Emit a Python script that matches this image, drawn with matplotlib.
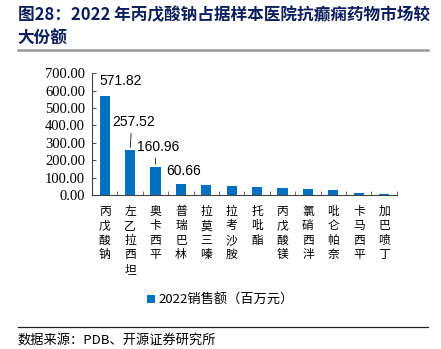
import matplotlib
matplotlib.use("Agg")
from matplotlib import pyplot as plt
from matplotlib.ticker import FixedLocator, NullFormatter

plt.rcParams["font.family"] = ["Noto Sans CJK SC", "DejaVu Sans"]

drugs = ["丙戊酸钠", "左乙拉西坦", "奥卡西平", "普瑞巴林", "拉莫三嗪", "拉考沙胺",
         "托吡酯", "丙戊酸镁", "氯硝西泮", "吡仑帕奈", "卡马西平", "加巴喷丁"]
sales = [571.82, 257.52, 160.96, 60.66, 57.0, 52.0, 47.0, 42.0, 35.0, 29.0, 13.0, 7.0]
shown = [571.82, 257.52, 160.96, 60.66]
yticks = [0, 100, 200, 300, 400, 500, 600, 700]

BLUE = "#0070C0"
NAVY = "#0d1f5c"

fig = plt.figure(figsize=(4.41, 3.49), dpi=100)
ax = fig.add_axes([0.2086, 0.4413, 0.6914, 0.3487])

x = list(range(len(drugs)))
ax.bar(x, sales, width=0.4, color=BLUE, zorder=2, label="2022销售额（百万元）")

ax.set_xlim(-0.5, len(drugs) - 0.5)
ax.set_ylim(0, 700)
ax.set_yticks(yticks)
ax.set_yticklabels([f"{v:.2f}" for v in yticks], family="Liberation Serif", fontsize=10.5)

ax.set_xticks(x)
ax.set_xticklabels(["\n".join(d) for d in drugs], fontsize=8.5, linespacing=1.15, va="top")
ax.tick_params(axis="x", which="major", length=0, pad=7)
ax.xaxis.set_minor_locator(FixedLocator([i - 0.5 for i in range(len(drugs) + 1)]))
ax.xaxis.set_minor_formatter(NullFormatter())
ax.tick_params(axis="x", which="minor", direction="in", length=3, color="#555555")
ax.tick_params(axis="y", direction="in", length=3, pad=5, color="#555555")

for s in ["top", "right"]:
    ax.spines[s].set_visible(False)
for s in ["left", "bottom"]:
    ax.spines[s].set_color("#444444")
    ax.spines[s].set_linewidth(0.8)

# value labels (offsets in pixels), leader lines for the middle two
offsets = [(-5, 15), (-18, 28), (-19, 20), (-15, 13)]
for i, (v, (dx, dy)) in enumerate(zip(shown, offsets)):
    props = None
    if i in (1, 2):
        props = dict(arrowstyle="-", color="#333333", lw=0.7, shrinkA=1, shrinkB=2,
                     relpos=(0.45, 0.0))
    ax.annotate(f"{v:.2f}", xy=(i, v), xytext=(dx, dy), textcoords="offset pixels",
                ha="left", va="center", fontsize=10, family="Liberation Sans",
                arrowprops=props)

fig.legend(loc="center", bbox_to_anchor=(0.5, 0.14), frameon=False, fontsize=9.5,
           handlelength=0.6, handleheight=0.6, handletextpad=0.3)

fig.text(0.04, 0.957, "图28：2022 年丙戊酸钠占据样本医院抗癫痫药物市场较",
         fontsize=12, fontweight="bold", color=NAVY, va="center")
fig.text(0.04, 0.89, "大份额", fontsize=12, fontweight="bold", color=NAVY, va="center")
fig.add_artist(plt.Line2D([0.041, 0.971], [0.857, 0.857], color="#999999", lw=1.8))
fig.add_artist(plt.Line2D([0.041, 0.971], [0.063, 0.063], color="#222222", lw=0.9))
fig.text(0.04, 0.026, "数据来源：PDB、开源证券研究所", fontsize=9.5, va="center")

fig.savefig("out.png", dpi=100)
